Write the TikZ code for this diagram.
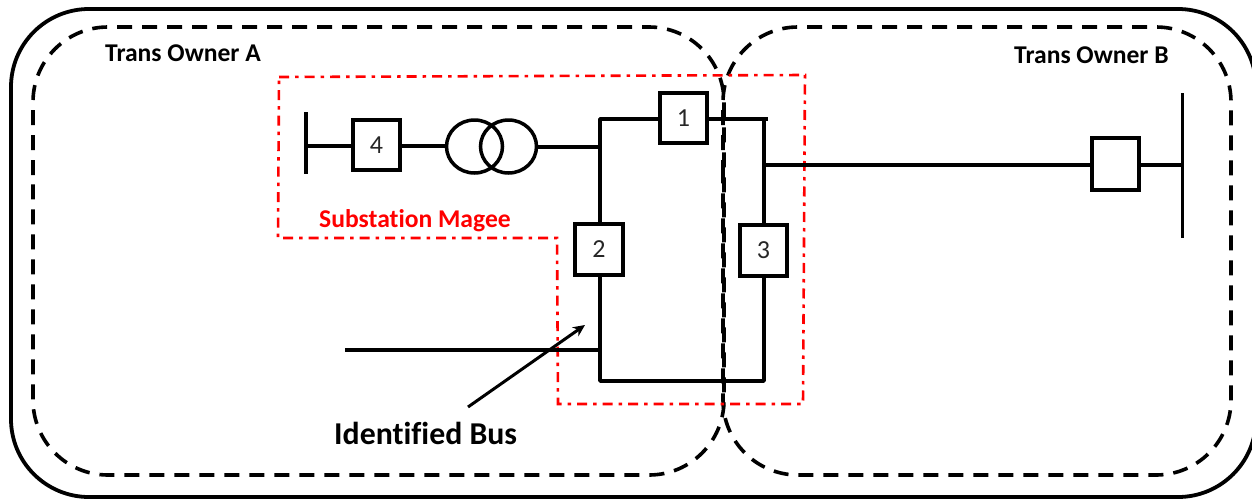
\documentclass[tikz,border=0pt]{standalone}
\usepackage{fontspec}
\setmainfont[Ligatures=NoCommon]{Carlito}
\usetikzlibrary{arrows.meta,shapes.geometric}
\tikzset{
  wire/.style={line width=3.5pt,black},
  thinwire/.style={line width=3pt,black},
  zone/.style={line width=3.6pt,black,dash pattern=on 15pt off 10pt,rounded corners=75pt},
  border/.style={line width=3.8pt,black,rounded corners=78pt},
  redzone/.style={line width=2.6pt,red,dash pattern=on 10pt off 6pt on 3.5pt off 6pt},
  breaker/.style={draw=black,line width=4pt,fill=white,minimum width=47.5pt,minimum height=50.5pt,inner sep=0pt,font=\fontsize{26pt}{28pt}\selectfont,text=black!85},
  owner/.style={font=\bfseries\fontsize{25.6pt}{28pt}\selectfont,inner sep=0pt},
  winding/.style={draw=black,line width=3.5pt,ellipse,minimum width=56pt,minimum height=53pt,inner sep=0pt},
}
\begin{document}
\begin{tikzpicture}[x=1pt,y=-1pt]
\useasboundingbox (0,0) rectangle (1252,498);
\fill[white] (0,0) rectangle (1252,498);
% outer border and zones
\draw[border] (11,250) -- (11,9) -- (1256,9) -- (1256,497) -- (11,497) -- cycle;
\draw[zone] (33,250) -- (33,27) -- (724,27) -- (724,475) -- (33,475) -- cycle;
\draw[zone] (723,250) -- (723,27) -- (1231,27) -- (1231,475) -- (723,475) -- cycle;
% red substation outline
\draw[redzone] (279,77) -- (805,75) -- (803,404) -- (558,404) -- (557,238) -- (278,238) -- cycle;
% junctions and free ends
\coordinate (busAtop) at (306,112);
\coordinate (busAbot) at (306,174);
\coordinate (busAmid) at (306,146);
\coordinate (busBtop) at (1182,93);
\coordinate (busBbot) at (1182,238);
\coordinate (busBmid) at (1182,165);
\coordinate (tl) at (600,119);
\coordinate (tr) at (764,119);
\coordinate (trEnd) at (768,119);
\coordinate (bl) at (600,381);
\coordinate (br) at (764,381);
\coordinate (xfmrJ) at (600,147);
\coordinate (feedJ) at (600,350);
\coordinate (feedEnd) at (345,350);
\coordinate (lineJ) at (764,165);
\coordinate (arrowStart) at (468,407);
\coordinate (arrowTip) at (585,325);
% breakers
\node[breaker] (b1) at (683.5,118) {1};
\node[breaker] (b2) at (599,249.5) {2};
\node[breaker] (b3) at (763.5,250.5) {3};
\node[breaker] (b4) at (376.5,145) {4};
\node[breaker,minimum height=51.5pt] (b5) at (1115.5,164) {};
% transformer
\node[winding] (t1) at (474.5,146.5) {};
\node[winding] (t2) at (508.5,146.5) {};
% wiring
\draw[wire] (busAtop) -- (busAbot);
\draw[wire] (busAmid) -- (busAmid -| b4.west);
\draw[wire] (busAmid -| b4.east) -- (busAmid -| t1.west);
\draw[wire] (xfmrJ -| t2.east) -- (xfmrJ);
\draw[wire,line cap=round,line join=round] (b2.north -| tl) -- (tl) -- (tl -| b1.west);
\draw[wire] (tl -| b1.east) -- (trEnd);
\draw[wire] (tr) -- (tr |- b3.north);
\draw[wire,line join=round] (bl |- b2.south) -- (bl) -- (br) -- (br |- b3.south);
\draw[wire] (feedEnd) -- (feedJ);
\draw[wire] (lineJ) -- (lineJ -| b5.west);
\draw[wire] (lineJ -| b5.east) -- (busBmid);
\draw[thinwire] (busBtop) -- (busBbot);
% arrow
\draw[line width=3pt,-{Stealth[length=12pt,width=11pt]}] (arrowStart) -- (arrowTip);
% labels
\node[owner,anchor=west] (ownerA) at (105,53) {Trans Owner A};
\node[owner,anchor=west] (ownerB) at (1014,55) {Trans Owner B};
\node[owner,anchor=west,text=red] (sub) at (319,221) {Substation Magee};
\node[anchor=west,inner sep=0pt,font=\bfseries\fontsize{31.8pt}{34pt}\selectfont] (idbus) at (334,433) {Identified Bus};
\end{tikzpicture}
\end{document}
